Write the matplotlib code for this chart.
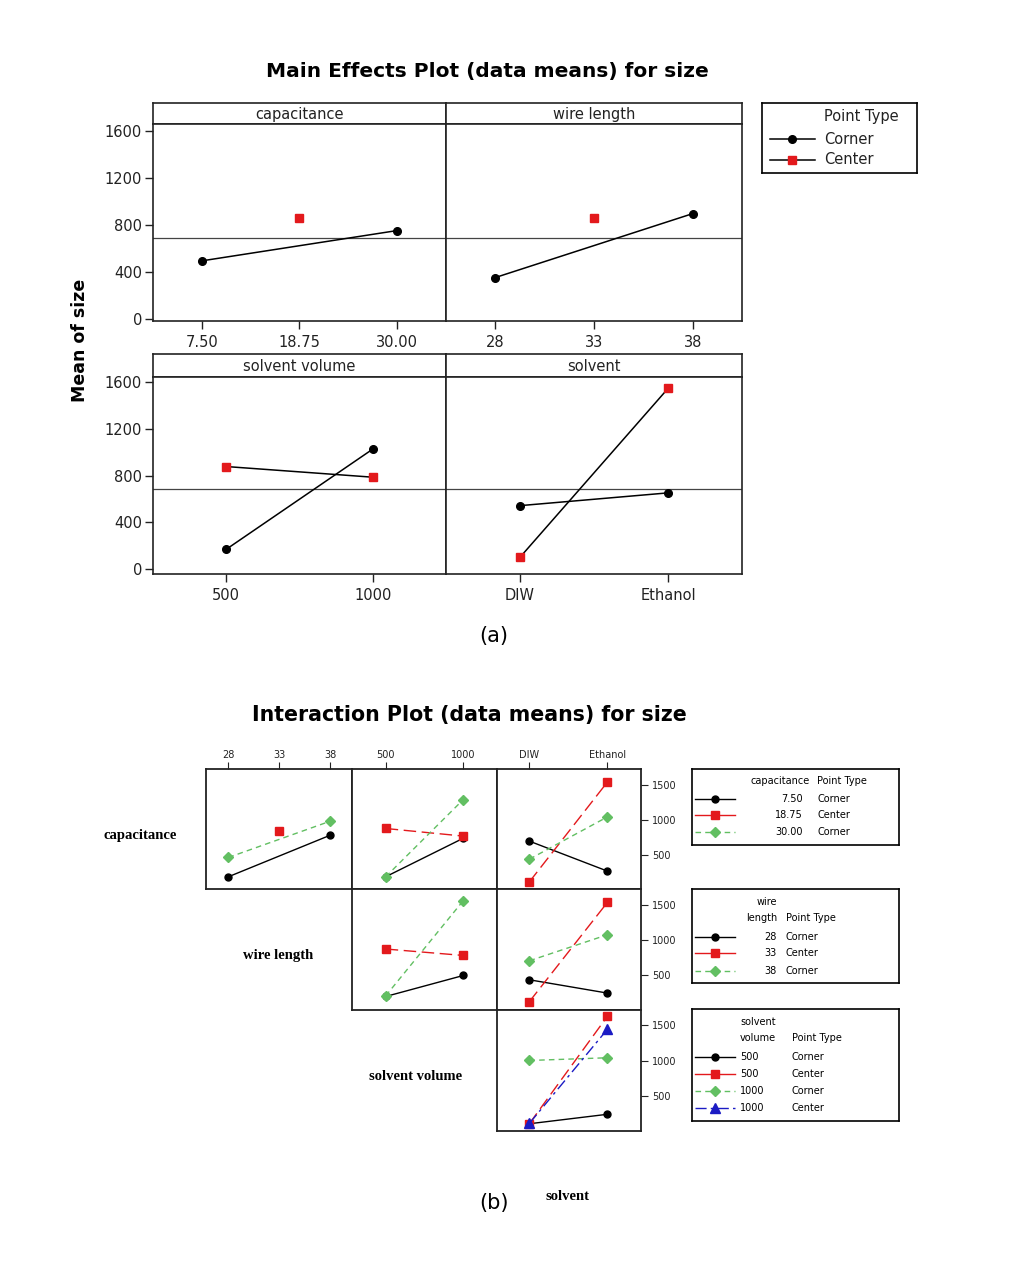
import numpy as np
import matplotlib
matplotlib.use('Agg')
import matplotlib.pyplot as plt

plt.rcParams['font.family'] = ['DejaVu Sans']

W, H = 1012, 1273
fig = plt.figure(figsize=(W / 100, H / 100), dpi=100)
fig.patch.set_facecolor('white')


def rect(x0, y0, x1, y1):
    return [x0 / W, 1 - y1 / H, (x1 - x0) / W, (y1 - y0) / H]


nan = np.nan

# ---------------- main effects data ----------------
grand_mean = 690
cap_levels = ['7.50', '18.75', '30.00']
cap_corner = [495, nan, 753]
cap_center = [nan, 858, nan]
wire_levels = ['28', '33', '38']
wire_corner = [353, nan, 897]
wire_center = [nan, 858, nan]
vol_levels = ['500', '1000']
vol_corner = [171, 1027]
vol_center = [878, 787]
solv_levels = ['DIW', 'Ethanol']
solv_corner = [544, 653]
solv_center = [103, 1545]
main_yticks = [0, 400, 800, 1200, 1600]

# ---------------- interaction data ----------------
wire_x = [28, 33, 38]
vol_x = [500, 1000]
solv_x = [0, 1]
# capacitance traces (7.50 corner, 18.75 center, 30.00 corner)
cap_by_wire = [[193, nan, 783], [nan, 840, nan], [467, nan, 982]]
cap_by_vol = [[193, 740], [878, 770], [193, 1289]]
cap_by_solv = [[698, 273], [122, 1538], [443, 1043]]
# wire length traces (28 corner, 33 center, 38 corner)
wire_by_vol = [[203, 500], [874, 783], [212, 1558]]
wire_by_solv = [[439, 251], [132, 1534], [708, 1076]]
# solvent volume traces (500 corner, 500 center, 1000 corner, 1000 center)
vol_by_solv = [[117, 250], [120, 1628], [1006, 1044], [123, 1445]]
int_yticks = [500, 1000, 1500]

BLACK = 'black'
RED = '#E3191C'
GREEN = '#62BF62'
BLUE = '#1B1BC4'
sty_black = dict(color=BLACK, ls='-', marker='o', ms=5, lw=1.0)
sty_red = dict(color=RED, ls=(0, (9, 4)), marker='s', ms=5.5, lw=1.0)
sty_green = dict(color=GREEN, ls=(0, (4, 3)), marker='D', ms=5, lw=1.0)
sty_blue = dict(color=BLUE, ls=(0, (8, 3, 2, 3)), marker='^', ms=7, lw=1.0)


def plot_series(ax, x, y, **kw):
    x = np.asarray(x, float)
    y = np.asarray(y, float)
    m = ~np.isnan(y)
    ax.plot(x[m], y[m], mec=kw['color'], mfc=kw['color'], **kw)


# ---------------- (a) main effects ----------------
fig.text(487 / W, 1 - 71 / H, 'Main Effects Plot (data means) for size',
         ha='center', va='center', fontsize=14.5, fontweight='bold')

main_cols = [153, 446, 742]
main_rows = [(103, 124, 321), (354, 377, 574)]
main_ylims = [(-17, 1660), (-40, 1643)]
panels = [
    ('capacitance', cap_levels, cap_corner, cap_center),
    ('wire length', wire_levels, wire_corner, wire_center),
    ('solvent volume', vol_levels, vol_corner, vol_center),
    ('solvent', solv_levels, solv_corner, solv_center),
]
for i, (name, levels, corner, center) in enumerate(panels):
    r, c = divmod(i, 2)
    top, strip_b, bot = main_rows[r]
    x0, x1 = main_cols[c], main_cols[c + 1]
    sax = fig.add_axes(rect(x0, top, x1, strip_b))
    sax.set_xticks([])
    sax.set_yticks([])
    for s in sax.spines.values():
        s.set_linewidth(1.2)
        s.set_color('#222222')
    sax.text(0.5, 0.45, name, ha='center', va='center', fontsize=10.5,
             color='#222222', transform=sax.transAxes)

    ax = fig.add_axes(rect(x0, strip_b, x1, bot))
    xs = np.arange(1, len(levels) + 1)
    ax.axhline(grand_mean, color='#444444', lw=0.9)
    for yv, col, mk, ms in [(corner, BLACK, 'o', 5.5), (center, RED, 's', 5.2)]:
        yv = np.asarray(yv, float)
        m = ~np.isnan(yv)
        ax.plot(xs[m], yv[m], color=BLACK, lw=1.1)
        ax.plot(xs[m], yv[m], ls='none', marker=mk, ms=ms, color=col)
    ax.set_xlim(0.5, len(levels) + 0.5)
    ax.set_ylim(*main_ylims[r])
    ax.set_xticks(xs)
    ax.set_xticklabels(levels)
    ax.set_yticks(main_yticks)
    if c == 0:
        ax.tick_params(axis='y', direction='out', length=6, width=1, pad=2,
                       labelsize=10.5, colors='#222222')
    else:
        ax.tick_params(axis='y', left=False, labelleft=False)
    ax.tick_params(axis='x', direction='out', length=6, width=1, pad=4,
                   labelsize=10.5, colors='#222222')
    for s in ax.spines.values():
        s.set_linewidth(1.2)
        s.set_color('#222222')

fig.text(80 / W, 1 - 340 / H, 'Mean of size', rotation=90, ha='center',
         va='center', fontsize=12.5, fontweight='bold')

# main legend
lax = fig.add_axes(rect(762, 103, 917, 173))
lax.set_xlim(762, 917)
lax.set_ylim(173, 103)
lax.set_xticks([])
lax.set_yticks([])
for s in lax.spines.values():
    s.set_linewidth(1.2)
lax.text(824, 117, 'Point Type', va='center', ha='left', fontsize=10.5, color='#222222')
for yy, lab, col, mk in [(139, 'Corner', BLACK, 'o'), (160, 'Center', RED, 's')]:
    lax.plot([770, 815], [yy, yy], color=BLACK, lw=1.1)
    lax.plot([792], [yy], marker=mk, color=col, ms=5.5 if mk == 'o' else 5.2)
    lax.text(824, yy, lab, va='center', ha='left', fontsize=10.5, color='#222222')

fig.text(494 / W, 1 - 636 / H, '(a)', ha='center', va='center', fontsize=15)

# ---------------- (b) interaction plot ----------------
fig.text(469 / W, 1 - 715 / H, 'Interaction Plot (data means) for size',
         ha='center', va='center', fontsize=14.8, fontweight='bold')

icols = [206, 351.7, 496.7, 641]
irows = [769.3, 889.3, 1009.8, 1131]
ixlims = [(25.8, 40.1), (281, 1215), (-0.42, 1.43)]
ixticks = [wire_x, vol_x, solv_x]
ixlabels = [['28', '33', '38'], ['500', '1000'], ['DIW', 'Ethanol']]
iylim = (15, 1718)

cap_styles = [sty_black, sty_red, sty_green]
wire_styles = [sty_black, sty_red, sty_green]
vol_styles = [sty_black, sty_red, sty_green, sty_blue]

cells = [
    (0, 0, wire_x, cap_by_wire, cap_styles),
    (0, 1, vol_x, cap_by_vol, cap_styles),
    (0, 2, solv_x, cap_by_solv, cap_styles),
    (1, 1, vol_x, wire_by_vol, wire_styles),
    (1, 2, solv_x, wire_by_solv, wire_styles),
    (2, 2, solv_x, vol_by_solv, vol_styles),
]
for r, c, xv, traces, styles in cells:
    ax = fig.add_axes(rect(icols[c], irows[r], icols[c + 1], irows[r + 1]))
    for y, st in zip(traces, styles):
        plot_series(ax, xv, y, **st)
    ax.set_xlim(*ixlims[c])
    ax.set_ylim(*iylim)
    ax.set_xticks(ixticks[c])
    ax.set_yticks(int_yticks)
    if r == 0:
        ax.xaxis.tick_top()
        ax.set_xticklabels(ixlabels[c])
        ax.tick_params(axis='x', direction='out', length=5, width=0.8, pad=2,
                       labelsize=7, colors='#222222')
    else:
        ax.tick_params(axis='x', bottom=False, top=False, labelbottom=False)
    if c == 2:
        ax.yaxis.tick_right()
        ax.tick_params(axis='y', direction='out', length=5, width=0.8, pad=3,
                       labelsize=7, colors='#222222')
    else:
        ax.tick_params(axis='y', left=False, right=False, labelleft=False)
    for s in ax.spines.values():
        s.set_linewidth(1.3)
        s.set_color('#222222')

row_names = [('capacitance', 140, 835), ('wire length', 278, 956),
             ('solvent volume', 416, 1077), ('solvent', 568, 1196)]
for txt, xx, yy in row_names:
    fig.text(xx / W, 1 - yy / H, txt, ha='center', va='center', fontsize=10.5,
             fontweight='bold', family=['Liberation Serif', 'DejaVu Serif'])


def legend_box(x0, y0, x1, y1):
    a = fig.add_axes(rect(x0, y0, x1, y1))
    a.set_xlim(x0, x1)
    a.set_ylim(y1, y0)
    a.set_xticks([])
    a.set_yticks([])
    for s in a.spines.values():
        s.set_linewidth(1.2)
    return a


def sample(a, yy, st):
    line_kw = {k: v for k, v in st.items() if k not in ('marker', 'ms')}
    if st['color'] == RED:
        line_kw['ls'] = '-'
    a.plot([695, 735], [yy, yy], **line_kw)
    a.plot([715], [yy], ls='none', marker=st['marker'], ms=st['ms'], color=st['color'])


fs = 7
# legend 1: capacitance
a = legend_box(692, 769, 899, 845)
a.text(810, 781, 'capacitance', ha='right', va='center', fontsize=fs)
a.text(817, 781, 'Point Type', ha='left', va='center', fontsize=fs)
for yy, lev, pt, st in zip([799, 815, 832], cap_levels, ['Corner', 'Center', 'Corner'], cap_styles):
    sample(a, yy, st)
    a.text(803, yy, lev, ha='right', va='center', fontsize=fs)
    a.text(817, yy, pt, ha='left', va='center', fontsize=fs)

# legend 2: wire length
a = legend_box(692, 889, 899, 983)
a.text(777, 902, 'wire', ha='right', va='center', fontsize=fs)
a.text(777, 918, 'length', ha='right', va='center', fontsize=fs)
a.text(786, 918, 'Point Type', ha='left', va='center', fontsize=fs)
for yy, lev, pt, st in zip([937, 953, 971], ['28', '33', '38'], ['Corner', 'Center', 'Corner'], wire_styles):
    sample(a, yy, st)
    a.text(777, yy, lev, ha='right', va='center', fontsize=fs)
    a.text(786, yy, pt, ha='left', va='center', fontsize=fs)

# legend 3: solvent volume
a = legend_box(692, 1009, 899, 1121)
a.text(740, 1022, 'solvent', ha='left', va='center', fontsize=fs)
a.text(740, 1038, 'volume', ha='left', va='center', fontsize=fs)
a.text(792, 1038, 'Point Type', ha='left', va='center', fontsize=fs)
for yy, lev, pt, st in zip([1057, 1074, 1091, 1108], ['500', '500', '1000', '1000'],
                           ['Corner', 'Center', 'Corner', 'Center'], vol_styles):
    sample(a, yy, st)
    a.text(740, yy, lev, ha='left', va='center', fontsize=fs)
    a.text(792, yy, pt, ha='left', va='center', fontsize=fs)

fig.text(494 / W, 1 - 1203 / H, '(b)', ha='center', va='center', fontsize=15)

fig.savefig('out.png', dpi=100, facecolor='white')
